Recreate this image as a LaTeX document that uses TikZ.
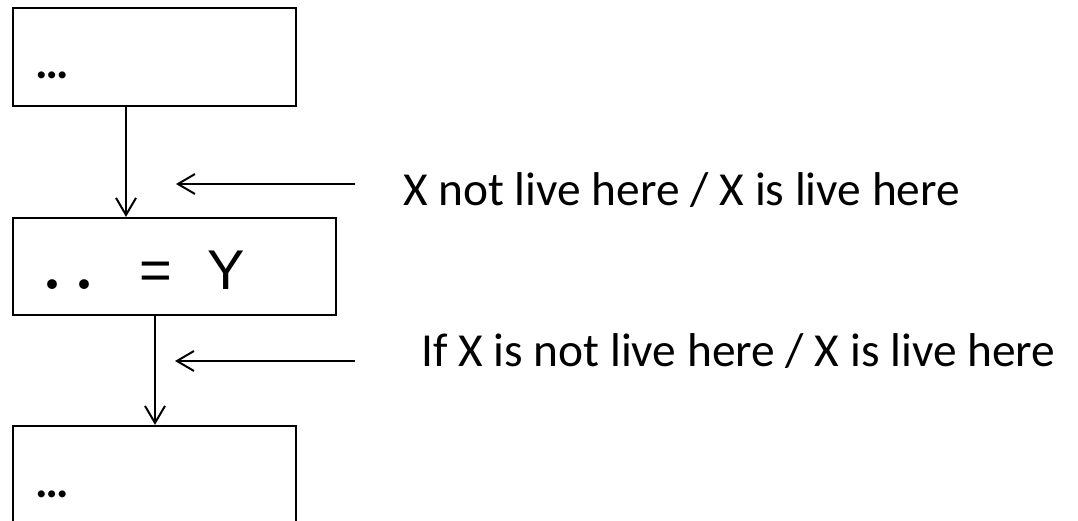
\documentclass[tikz,border=0pt]{standalone}
\usepackage{fontspec}
\setmainfont{Carlito}
\newfontfamily\arialfont{Liberation Sans}
\newfontfamily\dotfont{Latin Modern Roman}
\usetikzlibrary{arrows.meta}
\begin{document}
\begin{tikzpicture}[x=1pt,y=-1pt,
  block/.style={draw=black,line width=2.2pt,inner sep=0pt,minimum width=283pt,minimum height=98pt},
  flow/.style={draw=black,line width=2pt,-{Straight Barb[length=17pt,width=20pt,line width=2pt]}},
  note/.style={anchor=base west,inner sep=0pt,font=\fontsize{47.4}{56}\selectfont},
  dots/.style={anchor=base west,inner sep=0pt,font=\bfseries\fontsize{47}{56}\selectfont},
  stmt/.style={anchor=base west,inner sep=0pt,font=\arialfont\fontsize{56}{66}\selectfont}]
  \clip (0,0) rectangle (1078,521);
  \fill[white] (0,0) rectangle (1078,521);

  % the three statement blocks
  \node[block] (b1) at (154.5,57) {};
  \node[block,minimum width=323pt,minimum height=97pt] (b2) at (174.5,266.5) {};
  \node[block] (b3) at (154.5,475) {};

  % block contents
  \node[dots] (t1) at (35,79) {…};
  \node[stmt] (t2) at (36.9,289)
    {{\dotfont\fontsize{120}{120}\selectfont.\hspace{2.6pt}.}\hspace{40.2pt}=\hspace{35.3pt}Y};
  \node[dots] (t3) at (35,497) {…};

  % control flow edges
  \draw[flow] ([xshift=-28.5pt]b1.south) -- ([xshift=-28.5pt]b1.south |- b2.north);
  \draw[flow] ([xshift=-19.5pt]b2.south) -- ([xshift=-19.5pt]b2.south |- b3.north);

  % program points and their liveness notes
  \coordinate (p1) at (176,184);
  \coordinate (p2) at (175,361);
  \node[note] (n1) at (403,206) {X not live here / X is live here};
  \node[note] (n2) at (421,366) {If X is not live here / X is live here};
  \draw[flow] (355,184) coordinate (s1) -- (p1);
  \draw[flow] (355,361) coordinate (s2) -- (p2);
\end{tikzpicture}
\end{document}
